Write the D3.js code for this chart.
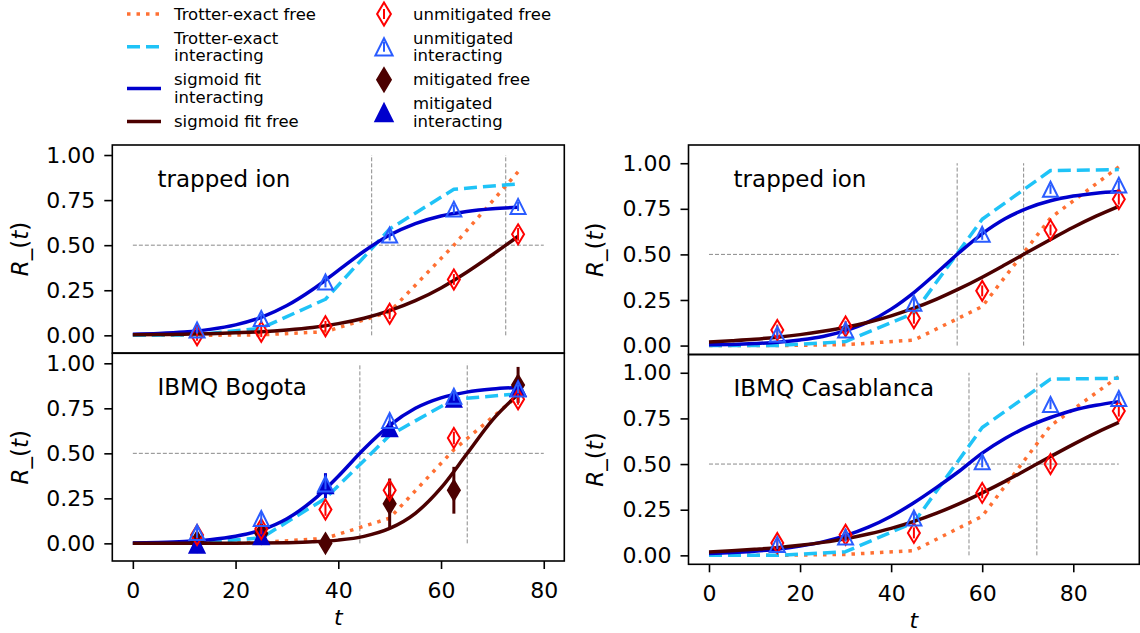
<!DOCTYPE html>
<html>
<head>
<meta charset="utf-8">
<script src="https://cdn.jsdelivr.net/npm/d3@7"></script>
<style>
  body { margin: 0; background: #fff; }
  svg { font-family: "DejaVu Sans", sans-serif; }
</style>
</head>
<body>
<svg id="chart" width="1140" height="633"></svg>
<script>
// time grids
var tLeft = [12.5, 25, 37.5, 50, 62.5, 75];
var tRight = [15, 30, 45, 60, 75, 90];
var trotterTLeft = [0, 12.5, 25, 37.5, 50, 62.5, 75];
var trotterTRight = [0, 15, 30, 45, 60, 75, 90];
var fitTLeft = [0, 5, 10, 15, 20, 25, 30, 35, 40, 45, 50, 55, 60, 65, 70, 75];
var fitTRight = [0, 5, 10, 15, 20, 25, 30, 35, 40, 45, 50, 55, 60, 65, 70, 75, 80, 85, 90];
var yTicks = [0, 0.25, 0.5, 0.75, 1];
var xTicks = [0, 20, 40, 60, 80];

// trapped ion (left)
var ionL_trotterFree = [0, 0, 0.003, 0.02, 0.13, 0.50, 0.907];
var ionL_trotterInt = [0, 0.003, 0.04, 0.20, 0.59, 0.81, 0.84];
var ionL_fitInt = [0.006, 0.010, 0.018, 0.033, 0.058, 0.100, 0.165, 0.254, 0.360, 0.466, 0.556, 0.620, 0.662, 0.687, 0.702, 0.710];
var ionL_fitFree = [0.003, 0.004, 0.006, 0.009, 0.014, 0.020, 0.030, 0.044, 0.065, 0.095, 0.137, 0.192, 0.263, 0.350, 0.447, 0.549];
var ionL_unmitFree = [0.0, 0.02, 0.05, 0.12, 0.31, 0.56];
var ionL_unmitFreeErr = [0.03, 0.03, 0.03, 0.03, 0.03, 0.035];
var ionL_unmitInt = [0.03, 0.093, 0.296, 0.556, 0.70, 0.715];
var ionL_unmitIntErr = [0.02, 0.025, 0.03, 0.03, 0.025, 0.025];
var ionL_half = [46.5, 72.6];

// IBMQ Bogota
var bog_trotterFree = [0, 0, 0.005, 0.028, 0.14, 0.52, 0.82];
var bog_trotterInt = [0, 0.003, 0.03, 0.25, 0.60, 0.80, 0.83];
var bog_fitInt = [0.0025, 0.005, 0.010, 0.020, 0.039, 0.074, 0.137, 0.237, 0.373, 0.524, 0.655, 0.750, 0.808, 0.840, 0.857, 0.866];
var bog_fitFree = [0, 0.0001, 0.0002, 0.0004, 0.0008, 0.0017, 0.0038, 0.0083, 0.018, 0.039, 0.083, 0.167, 0.308, 0.496, 0.685, 0.828];
var bog_unmitFree = [0.046, 0.08, 0.188, 0.295, 0.585, 0.80];
var bog_unmitFreeErr = [0.03, 0.03, 0.035, 0.04, 0.035, 0.03];
var bog_unmitInt = [0.06, 0.138, 0.33, 0.683, 0.817, 0.858];
var bog_unmitIntErr = [0.03, 0.03, 0.03, 0.03, 0.025, 0.025];
var bog_mitFree = [0.01, 0.055, 0.0, 0.22, 0.295, 0.88];
var bog_mitFreeErr = [0.03, 0.04, 0.02, 0.14, 0.13, 0.10];
var bog_mitInt = [-0.01, 0.037, 0.32, 0.637, 0.80, 0.86];
var bog_mitIntErr = [0.03, 0.03, 0.07, 0.04, 0.03, 0.03];
var bog_half = [44.2, 65.1];

// trapped ion (right)
var ionR_trotterFree = [0, 0, 0.005, 0.03, 0.214, 0.70, 0.98];
var ionR_trotterInt = [0, 0, 0.022, 0.178, 0.693, 0.96, 0.965];
var ionR_fitInt = [0.004, 0.0065, 0.011, 0.018, 0.031, 0.050, 0.082, 0.130, 0.200, 0.291, 0.399, 0.511, 0.613, 0.695, 0.754, 0.794, 0.820, 0.836, 0.845];
var ionR_fitFree = [0.020, 0.027, 0.035, 0.046, 0.060, 0.078, 0.100, 0.128, 0.163, 0.205, 0.255, 0.312, 0.375, 0.443, 0.513, 0.582, 0.649, 0.710, 0.764];
var ionR_unmitFree = [0.085, 0.105, 0.15, 0.30, 0.634, 0.803];
var ionR_unmitFreeErr = [0.03, 0.03, 0.03, 0.03, 0.03, 0.03];
var ionR_unmitInt = [0.062, 0.086, 0.232, 0.61, 0.857, 0.88];
var ionR_unmitIntErr = [0.025, 0.025, 0.03, 0.03, 0.025, 0.025];
var ionR_half = [54.5, 69.1];

// IBMQ Casablanca
var cas_trotterFree = [0, 0, 0.005, 0.026, 0.214, 0.71, 0.98];
var cas_trotterInt = [0, 0, 0.02, 0.18, 0.70, 0.965, 0.97];
var cas_fitInt = [0.010, 0.015, 0.023, 0.034, 0.051, 0.074, 0.108, 0.154, 0.214, 0.288, 0.372, 0.462, 0.56, 0.64, 0.705, 0.755, 0.795, 0.822, 0.842];
var cas_fitFree = [0.019, 0.025, 0.033, 0.042, 0.055, 0.071, 0.091, 0.117, 0.148, 0.186, 0.231, 0.283, 0.342, 0.405, 0.473, 0.541, 0.608, 0.671, 0.728];
var cas_unmitFree = [0.068, 0.113, 0.123, 0.342, 0.50, 0.79];
var cas_unmitFreeErr = [0.03, 0.03, 0.03, 0.03, 0.03, 0.03];
var cas_unmitInt = [0.06, 0.10, 0.205, 0.512, 0.826, 0.859];
var cas_unmitIntErr = [0.025, 0.025, 0.03, 0.03, 0.025, 0.025];
var cas_half = [57.1, 72.0];

// legend labels
var legendLines = ["Trotter-exact free", "Trotter-exact\ninteracting", "sigmoid fit\ninteracting", "sigmoid fit free"];
var legendMarkers = ["unmitigated free", "unmitigated\ninteracting", "mitigated free", "mitigated\ninteracting"];

var C = {
  orange: "#ff7033",
  cyan: "#1fc3f7",
  fitInt: "#0000cd",
  fitFree: "#4c0000",
  red: "#ff0000",
  blue: "#2a5cff",
  mitFree: "#4c0000",
  mitInt: "#0000cd",
  grey: "#8a8a8a"
};

var svg = d3.select("#chart");
var fmt = d3.format(".2f");

function diamondPath(s) { return "M0," + (-s/2) + "L" + (0.3*s) + ",0L0," + (s/2) + "L" + (-0.3*s) + ",0Z"; }
function trianglePath(s) { return "M0," + (-s/2) + "L" + (s/2) + "," + (s/2) + "L" + (-s/2) + "," + (s/2) + "Z"; }

var styles = {
  trotterFree: {stroke: C.orange, width: 3.5, dash: "3.5 6"},
  trotterInt: {stroke: C.cyan, width: 3.5, dash: "13 6"},
  fitInt: {stroke: C.fitInt, width: 3.5, dash: null},
  fitFree: {stroke: C.fitFree, width: 3.5, dash: null},
  unmitFree: {shape: diamondPath, size: 20, stroke: C.red, fill: "none", ew: 2},
  unmitInt: {shape: trianglePath, size: 15, stroke: C.blue, fill: "none", ew: 2},
  mitFree: {shape: diamondPath, size: 20, stroke: C.mitFree, fill: C.mitFree, ew: 3},
  mitInt: {shape: trianglePath, size: 15, stroke: C.mitInt, fill: C.mitInt, ew: 3}
};

var panels = [
  {left: 112.3, right: 564.3, top: 145, bottom: 353, xlim: [-4, 84], ylim: [-0.098, 1.0556], xmax: 80,
   label: "trapped ion", xAxis: false, ylabX: 28,
   tt: trotterTLeft, tf: fitTLeft, tm: tLeft,
   trotterFree: ionL_trotterFree, trotterInt: ionL_trotterInt, fitInt: ionL_fitInt, fitFree: ionL_fitFree,
   unmitFree: ionL_unmitFree, unmitFreeErr: ionL_unmitFreeErr, unmitInt: ionL_unmitInt, unmitIntErr: ionL_unmitIntErr,
   half: ionL_half},
  {left: 112.3, right: 564.3, top: 353.3, bottom: 561, xlim: [-4, 84], ylim: [-0.098, 1.0556], xmax: 80,
   label: "IBMQ Bogota", xAxis: true, ylabX: 28,
   tt: trotterTLeft, tf: fitTLeft, tm: tLeft,
   trotterFree: bog_trotterFree, trotterInt: bog_trotterInt, fitInt: bog_fitInt, fitFree: bog_fitFree,
   unmitFree: bog_unmitFree, unmitFreeErr: bog_unmitFreeErr, unmitInt: bog_unmitInt, unmitIntErr: bog_unmitIntErr,
   mitFree: bog_mitFree, mitFreeErr: bog_mitFreeErr, mitInt: bog_mitInt, mitIntErr: bog_mitIntErr,
   half: bog_half},
  {left: 688.5, right: 1139.3, top: 145, bottom: 354.5, xlim: [-4.5, 94.5], ylim: [-0.049, 1.1], xmax: 90,
   label: "trapped ion", xAxis: false, ylabX: 603,
   tt: trotterTRight, tf: fitTRight, tm: tRight,
   trotterFree: ionR_trotterFree, trotterInt: ionR_trotterInt, fitInt: ionR_fitInt, fitFree: ionR_fitFree,
   unmitFree: ionR_unmitFree, unmitFreeErr: ionR_unmitFreeErr, unmitInt: ionR_unmitInt, unmitIntErr: ionR_unmitIntErr,
   half: ionR_half},
  {left: 688.5, right: 1139.3, top: 354.5, bottom: 564.3, xlim: [-4.5, 94.5], ylim: [-0.049, 1.1], xmax: 90,
   label: "IBMQ Casablanca", xAxis: true, ylabX: 603,
   tt: trotterTRight, tf: fitTRight, tm: tRight,
   trotterFree: cas_trotterFree, trotterInt: cas_trotterInt, fitInt: cas_fitInt, fitFree: cas_fitFree,
   unmitFree: cas_unmitFree, unmitFreeErr: cas_unmitFreeErr, unmitInt: cas_unmitInt, unmitIntErr: cas_unmitIntErr,
   half: cas_half}
];

function drawLine(g, xs, ys, st, x, y, curve) {
  var line = d3.line().x(function(d) { return x(d[0]); }).y(function(d) { return y(d[1]); }).curve(curve);
  g.append("path")
    .datum(xs.map(function(t, i) { return [t, ys[i]]; }))
    .attr("d", line)
    .attr("fill", "none")
    .attr("stroke", st.stroke)
    .attr("stroke-width", st.width)
    .attr("stroke-dasharray", st.dash)
    .attr("stroke-linejoin", "round");
}

function drawMarkers(g, xs, ys, errs, st, x, y) {
  var pts = xs.map(function(t, i) { return {t: t, v: ys[i], e: errs[i]}; });
  var grp = g.append("g");
  grp.selectAll("line.err").data(pts).enter().append("line")
    .attr("x1", function(d) { return x(d.t); }).attr("x2", function(d) { return x(d.t); })
    .attr("y1", function(d) { return y(d.v - d.e); }).attr("y2", function(d) { return y(d.v + d.e); })
    .attr("stroke", st.stroke).attr("stroke-width", st.ew);
  grp.selectAll("path").data(pts).enter().append("path")
    .attr("d", st.shape(st.size))
    .attr("transform", function(d) { return "translate(" + x(d.t) + "," + y(d.v) + ")"; })
    .attr("fill", st.fill)
    .attr("stroke", st.stroke)
    .attr("stroke-width", 2);
}

panels.forEach(function(p) {
  var x = d3.scaleLinear().domain(p.xlim).range([p.left, p.right]);
  var y = d3.scaleLinear().domain(p.ylim).range([p.bottom, p.top]);
  var g = svg.append("g");

  // reference lines
  g.append("line")
    .attr("x1", x(0)).attr("x2", x(p.xmax)).attr("y1", y(0.5)).attr("y2", y(0.5))
    .attr("stroke", C.grey).attr("stroke-width", 1).attr("stroke-dasharray", "4 2");
  g.selectAll("line.half").data(p.half).enter().append("line")
    .attr("x1", function(d) { return x(d); }).attr("x2", function(d) { return x(d); })
    .attr("y1", y(0)).attr("y2", y(1))
    .attr("stroke", C.grey).attr("stroke-width", 1).attr("stroke-dasharray", "4 2");

  drawLine(g, p.tt, p.trotterFree, styles.trotterFree, x, y, d3.curveLinear);
  drawLine(g, p.tt, p.trotterInt, styles.trotterInt, x, y, d3.curveLinear);
  drawLine(g, p.tf, p.fitInt, styles.fitInt, x, y, d3.curveMonotoneX);
  drawLine(g, p.tf, p.fitFree, styles.fitFree, x, y, d3.curveMonotoneX);

  if (p.mitFree) {
    drawMarkers(g, p.tm, p.mitFree, p.mitFreeErr, styles.mitFree, x, y);
    drawMarkers(g, p.tm, p.mitInt, p.mitIntErr, styles.mitInt, x, y);
  }
  drawMarkers(g, p.tm, p.unmitFree, p.unmitFreeErr, styles.unmitFree, x, y);
  drawMarkers(g, p.tm, p.unmitInt, p.unmitIntErr, styles.unmitInt, x, y);

  // frame
  g.append("rect")
    .attr("x", p.left).attr("y", p.top)
    .attr("width", p.right - p.left).attr("height", p.bottom - p.top)
    .attr("fill", "none").attr("stroke", "#000").attr("stroke-width", 1.6);

  // y axis
  var ya = g.append("g").attr("transform", "translate(" + p.left + ",0)")
    .call(d3.axisLeft(y).tickValues(yTicks).tickFormat(fmt).tickSize(8).tickPadding(9));
  ya.select(".domain").remove();
  ya.selectAll(".tick line").attr("stroke-width", 1.6);
  ya.selectAll(".tick text").attr("font-size", 22).attr("fill", "#000").attr("font-family", "DejaVu Sans");

  // y label
  var yl = g.append("text")
    .attr("transform", "translate(" + p.ylabX + "," + ((p.top + p.bottom) / 2) + ") rotate(-90)")
    .attr("text-anchor", "middle").attr("font-size", 23);
  yl.append("tspan").attr("font-style", "italic").text("R");
  yl.append("tspan").text("_(");
  yl.append("tspan").attr("font-style", "italic").text("t");
  yl.append("tspan").text(")");

  // panel label
  g.append("text")
    .attr("x", p.left + 0.1 * (p.right - p.left))
    .attr("y", p.bottom - 0.8 * (p.bottom - p.top))
    .attr("font-size", 23).text(p.label);

  if (p.xAxis) {
    var xa = g.append("g").attr("transform", "translate(0," + p.bottom + ")")
      .call(d3.axisBottom(x).tickValues(xTicks).tickSize(8).tickPadding(13));
    xa.select(".domain").remove();
    xa.selectAll(".tick line").attr("stroke-width", 1.6);
    xa.selectAll(".tick text").attr("font-size", 22).attr("fill", "#000").attr("font-family", "DejaVu Sans");
    g.append("text")
      .attr("x", (p.left + p.right) / 2).attr("y", p.bottom + 64)
      .attr("text-anchor", "middle").attr("font-size", 22).attr("font-style", "italic").text("t");
  }
});

// legend
var lg = svg.append("g").attr("font-size", 16.5);
function legendColumn(labels, xHandle, xText, drawHandle) {
  var yy = 14, pitch = 17.7;
  labels.forEach(function(lab, i) {
    var parts = lab.split("\n");
    var hy = yy + (parts.length - 1) * pitch / 2;
    drawHandle(i, hy);
    var t = lg.append("text").attr("x", xText).attr("y", yy).attr("dy", "0.35em");
    parts.forEach(function(s, j) {
      t.append("tspan").attr("x", xText).attr("y", yy + j * pitch).attr("dy", "0.35em").text(s);
    });
    yy += parts.length * pitch + 6.3;
  });
}
var lineKeys = ["trotterFree", "trotterInt", "fitInt", "fitFree"];
legendColumn(legendLines, 127, 174, function(i, hy) {
  var st = styles[lineKeys[i]];
  lg.append("line").attr("x1", 127).attr("x2", 161).attr("y1", hy).attr("y2", hy)
    .attr("stroke", st.stroke).attr("stroke-width", st.width).attr("stroke-dasharray", st.dash);
});
var markerKeys = ["unmitFree", "unmitInt", "mitFree", "mitInt"];
legendColumn(legendMarkers, 384, 413, function(i, hy) {
  var st = styles[markerKeys[i]];
  lg.append("line").attr("x1", 384).attr("x2", 384).attr("y1", hy - 5).attr("y2", hy + 5)
    .attr("stroke", st.stroke).attr("stroke-width", st.ew);
  lg.append("path").attr("d", st.shape(st.size * 1.15))
    .attr("transform", "translate(384," + hy + ")")
    .attr("fill", st.fill).attr("stroke", st.stroke).attr("stroke-width", 2);
});
</script>
</body>
</html>
